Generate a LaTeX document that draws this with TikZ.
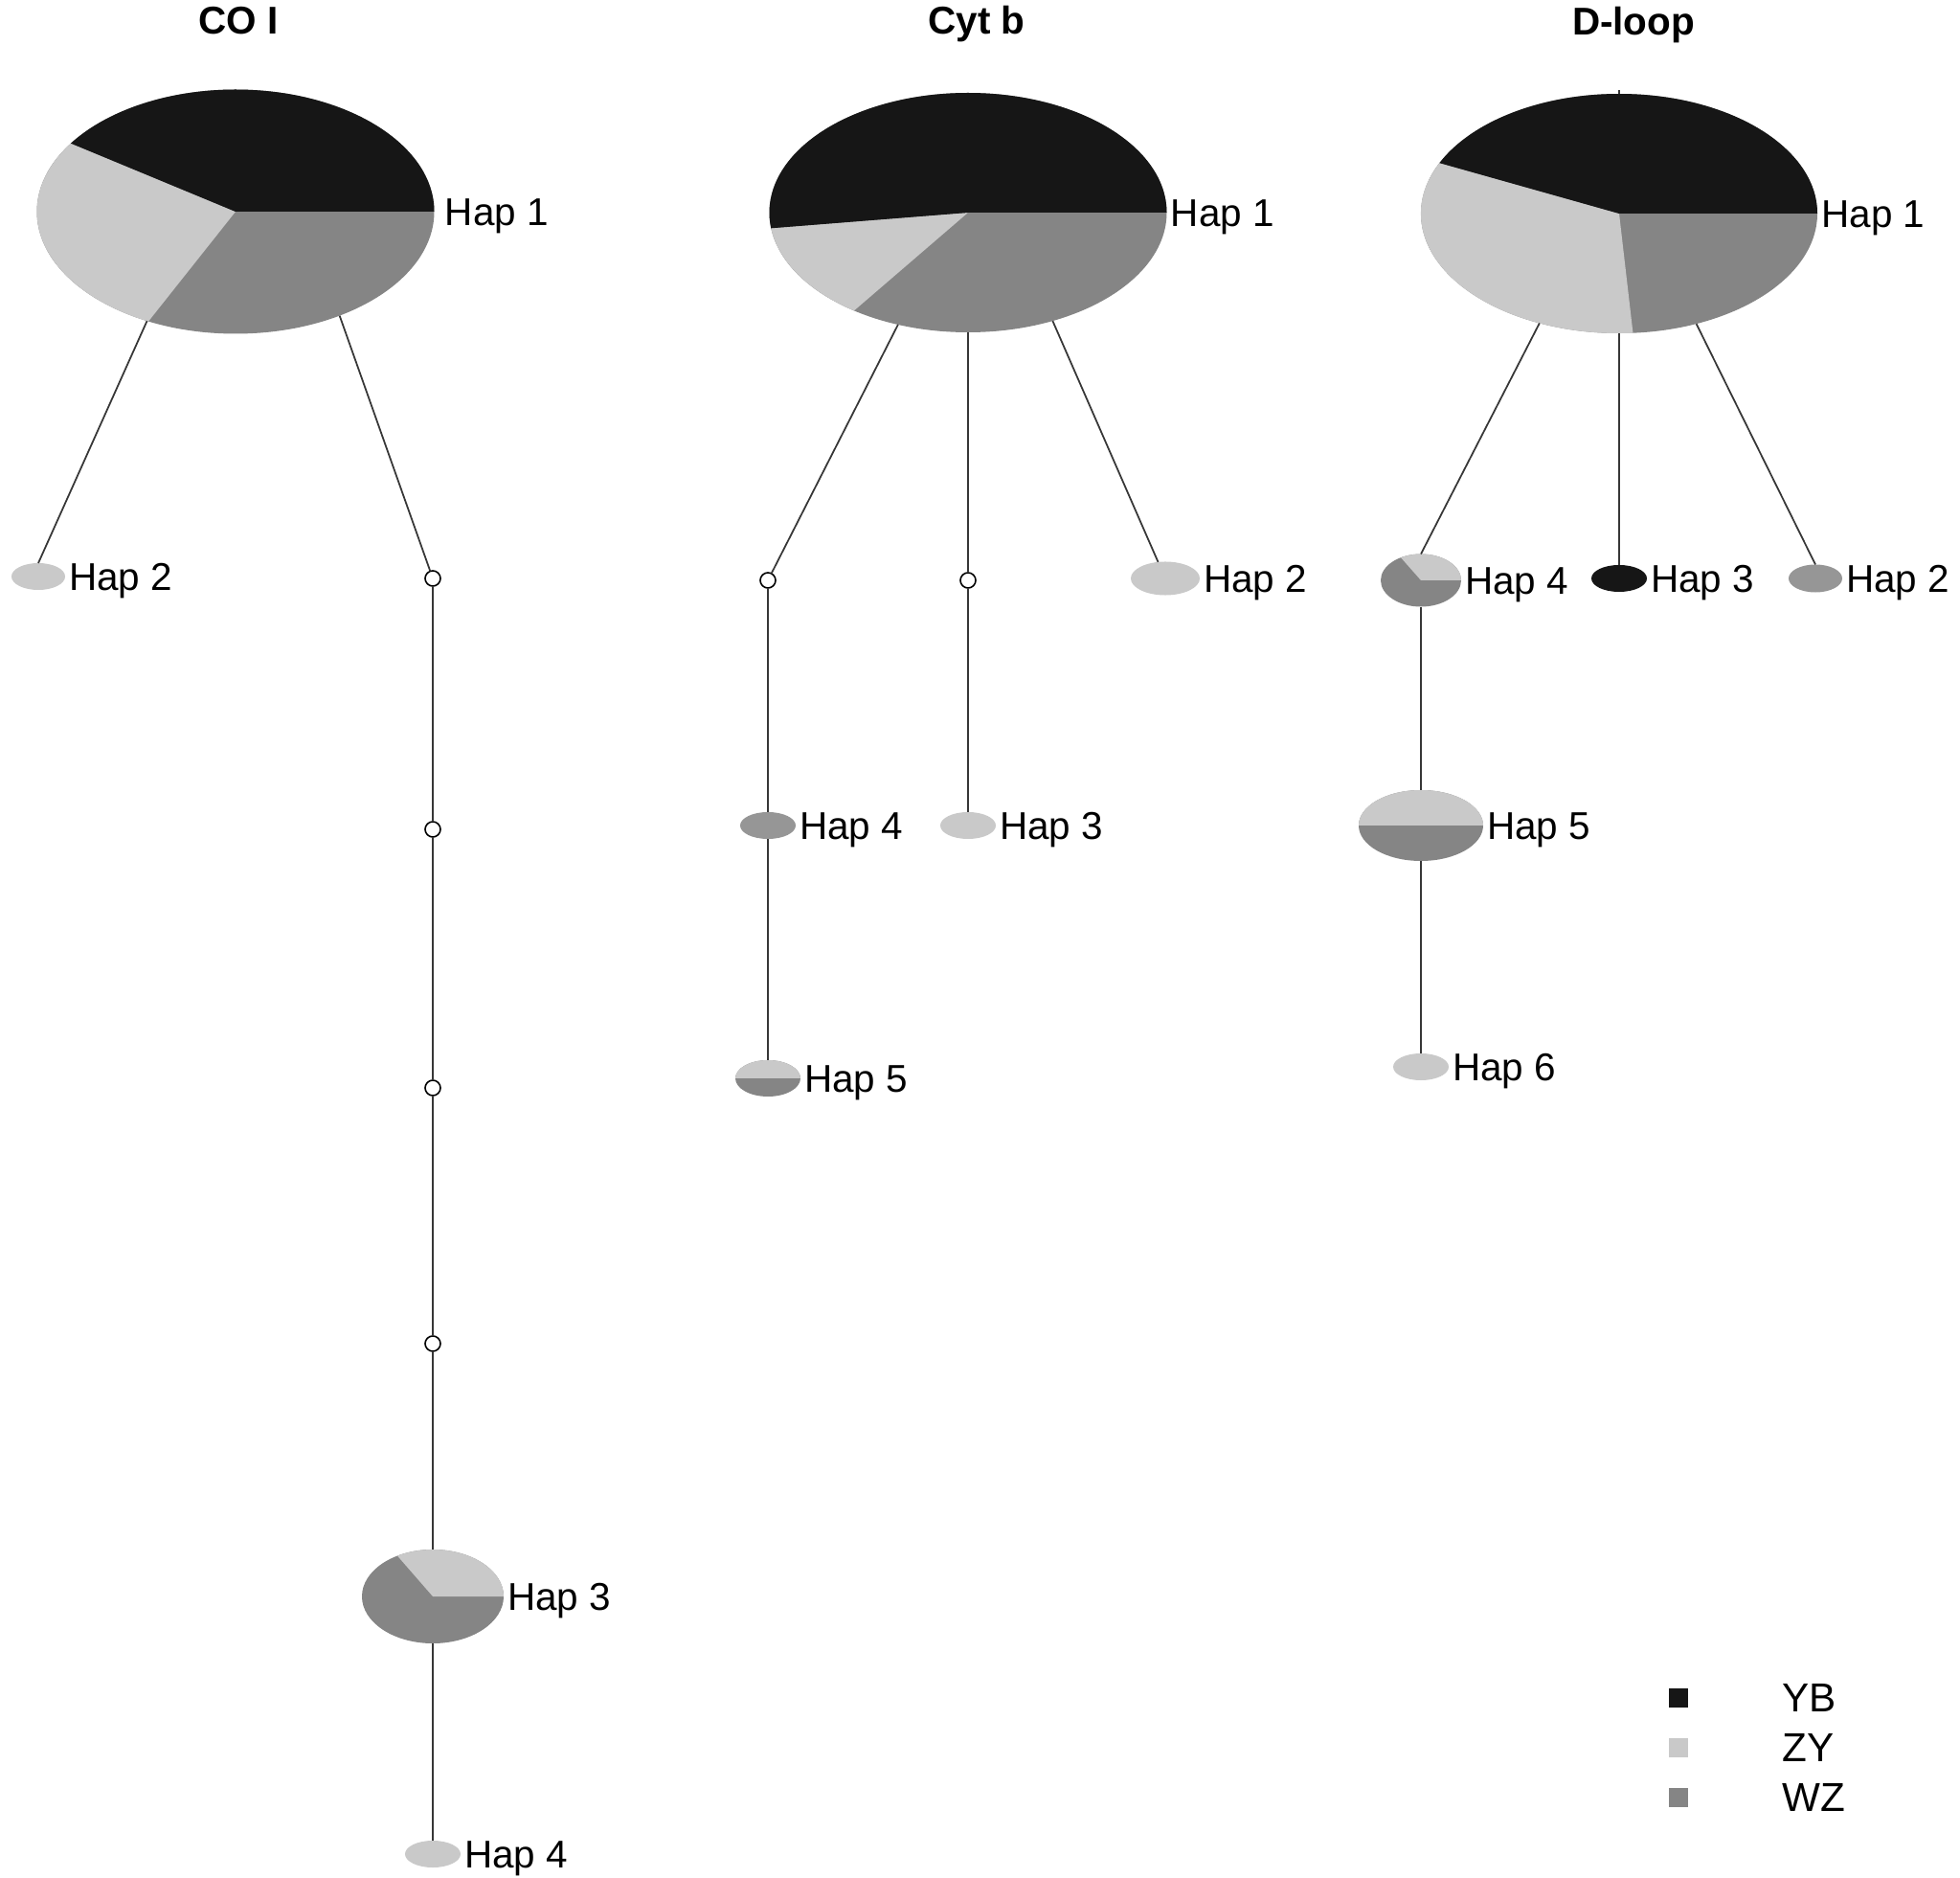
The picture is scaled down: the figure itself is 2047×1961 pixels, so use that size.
\documentclass[tikz,border=0pt]{standalone}
\usepackage{fontspec}
\setmainfont{Liberation Sans}
\usetikzlibrary{shapes.geometric}
\definecolor{ybc}{RGB}{22,22,22}
\definecolor{zyc}{RGB}{201,201,201}
\definecolor{wzc}{RGB}{133,133,133}
\definecolor{wzs}{RGB}{150,150,150}
\definecolor{edgec}{RGB}{55,55,55}
\newcommand{\hsector}[6]{\fill[#1, shift={(#2.center)}, xscale=#3, yscale=#4] (0,0) -- (#5:1) arc[start angle=#5, end angle=#6, radius=1] -- cycle;}
\newcommand{\hbase}[4]{\fill[#1] (#2.center) ellipse[x radius=#3, y radius=#4];}
\begin{document}
\begin{tikzpicture}[x=0.01cm,y=0.01cm,
  hap/.style={ellipse, inner sep=0, outer sep=0, draw=none},
  mv/.style={circle, draw=black, fill=white, line width=0.45pt, inner sep=0, outer sep=0, minimum size=0.16cm},
  edge/.style={draw=edgec, line width=0.5pt},
  lab/.style={anchor=west, inner sep=0, text height=8.2pt, text depth=0pt, font=\fontsize{11.5}{13}\selectfont},
  ttl/.style={inner sep=0, text height=8.2pt, text depth=0pt, font=\fontsize{11.5}{13}\selectfont\bfseries},
  sq/.style={rectangle, inner sep=0, minimum size=0.2cm},
  leg/.style={anchor=west, inner sep=0, text height=8.5pt, text depth=0pt, font=\fontsize{12}{14}\selectfont}]
\useasboundingbox (0,0) rectangle (2047,-1961);

% titles
\node[ttl] (t1) at (249,-21) {CO I};
\node[ttl] (t2) at (1020,-21) {Cyt b};
\node[ttl] (t3) at (1706,-22) {D-loop};

% ---------- CO I ----------
\node[hap, minimum width=4.15cm, minimum height=2.55cm] (c1h1) at (246,-221) {};
\hbase{wzc}{c1h1}{207.5}{127.5}
\hsector{zyc}{c1h1}{207.5}{127.5}{146}{244}
\hsector{ybc}{c1h1}{207.5}{127.5}{0}{146}
\node[hap, fill=zyc, minimum width=0.56cm, minimum height=0.28cm] (c1h2) at (40,-602) {};
\node[mv] (c1m1) at (452,-604) {};
\node[mv] (c1m2) at (452,-866) {};
\node[mv] (c1m3) at (452,-1136) {};
\node[mv] (c1m4) at (452,-1403) {};
\node[hap, minimum width=1.48cm, minimum height=0.98cm] (c1h3) at (452,-1667) {};
\hbase{wzc}{c1h3}{74}{49}
\hsector{zyc}{c1h3}{74}{49}{0}{120}
\node[hap, fill=zyc, minimum width=0.58cm, minimum height=0.28cm] (c1h4) at (452,-1936) {};

\draw[edge] (c1h1.231.6) -- (c1h2.north);
\draw[edge] (c1h1.-45.3) -- (c1m1);
\draw[edge] (c1m1) -- (c1m2);
\draw[edge] (c1m2) -- (c1m3);
\draw[edge] (c1m3) -- (c1m4);
\draw[edge] (c1m4) -- (c1h3);
\draw[edge] (c1h3) -- (c1h4);

\node[lab] (c1l1) at ([xshift=3pt]c1h1.east) {Hap 1};
\node[lab] (c1l2) at ([xshift=1pt]c1h2.east) {Hap 2};
\node[lab] (c1l3) at ([xshift=1pt]c1h3.east) {Hap 3};
\node[lab] (c1l4) at ([xshift=1pt]c1h4.east) {Hap 4};

% ---------- Cyt b ----------
\node[hap, minimum width=4.15cm, minimum height=2.5cm] (cbh1) at (1011,-222) {};
\hbase{wzc}{cbh1}{207.5}{125}
\hsector{zyc}{cbh1}{207.5}{125}{187.5}{235}
\hsector{ybc}{cbh1}{207.5}{125}{0}{187.5}
\node[mv] (cbm1) at (802,-606) {};
\node[mv] (cbm2) at (1011,-606) {};
\node[hap, fill=zyc, minimum width=0.72cm, minimum height=0.35cm] (cbh2) at (1217,-604) {};
\node[hap, fill=wzs, minimum width=0.58cm, minimum height=0.28cm] (cbh4) at (802,-862) {};
\node[hap, fill=zyc, minimum width=0.58cm, minimum height=0.28cm] (cbh3) at (1011,-862) {};
\node[hap, minimum width=0.68cm, minimum height=0.38cm] (cbh5) at (802,-1126) {};
\hbase{wzc}{cbh5}{34}{19}
\hsector{zyc}{cbh5}{34}{19}{0}{180}

\draw[edge] (cbh1.238) -- (cbm1);
\draw[edge] (cbh1.south) -- (cbm2);
\draw[edge] (cbh1.-52.3) -- (cbh2);
\draw[edge] (cbm1) -- (cbh4);
\draw[edge] (cbh4) -- (cbh5);
\draw[edge] (cbm2) -- (cbh3);

\node[lab] (cbl1) at ([xshift=1pt]cbh1.east) {Hap 1};
\node[lab] (cbl2) at ([xshift=1pt]cbh2.east) {Hap 2};
\node[lab] (cbl3) at ([xshift=1pt]cbh3.east) {Hap 3};
\node[lab] (cbl4) at ([xshift=1pt]cbh4.east) {Hap 4};
\node[lab] (cbl5) at ([xshift=1pt]cbh5.east) {Hap 5};

% ---------- D-loop ----------
\node[hap, minimum width=4.14cm, minimum height=2.5cm] (dlh1) at (1691,-223) {};
\hbase{wzc}{dlh1}{207}{125}
\hsector{zyc}{dlh1}{207}{125}{155}{274}
\hsector{ybc}{dlh1}{207}{125}{0}{155}
\coordinate (dltick) at (1691,-94);
\node[hap, minimum width=0.84cm, minimum height=0.55cm] (dlh4) at (1484,-606) {};
\hbase{wzc}{dlh4}{42}{27.5}
\hsector{zyc}{dlh4}{42}{27.5}{0}{120}
\node[hap, fill=ybc, minimum width=0.58cm, minimum height=0.28cm] (dlh3) at (1691,-604) {};
\node[hap, fill=wzs, minimum width=0.56cm, minimum height=0.29cm] (dlh2) at (1896,-604) {};
\node[hap, minimum width=1.30cm, minimum height=0.74cm] (dlh5) at (1484,-862) {};
\hbase{wzc}{dlh5}{65}{37}
\hsector{zyc}{dlh5}{65}{37}{0}{180}
\node[hap, fill=zyc, minimum width=0.58cm, minimum height=0.28cm] (dlh6) at (1484,-1114) {};

\draw[edge] (dlh1.north) -- (dltick);
\draw[edge] (dlh1.-126.5) -- (dlh4.north);
\draw[edge] (dlh1.south) -- (dlh3);
\draw[edge] (dlh1.-55.4) -- (dlh2.north);
\draw[edge] (dlh4) -- (dlh5);
\draw[edge] (dlh5) -- (dlh6);

\node[lab] (dll1) at ([xshift=1pt]dlh1.east) {Hap 1};
\node[lab] (dll2) at ([xshift=1pt]dlh2.east) {Hap 2};
\node[lab] (dll3) at ([xshift=1pt]dlh3.east) {Hap 3};
\node[lab] (dll4) at ([xshift=1pt]dlh4.east) {Hap 4};
\node[lab] (dll5) at ([xshift=1pt]dlh5.east) {Hap 5};
\node[lab] (dll6) at ([xshift=1pt]dlh6.east) {Hap 6};

% ---------- legend ----------
\node[sq, fill=ybc] (lg1) at (1753,-1773) {};
\node[sq, fill=zyc] (lg2) at (1753,-1825) {};
\node[sq, fill=wzc] (lg3) at (1753,-1877) {};
\node[leg] (lt1) at (1861,-1773) {YB};
\node[leg] (lt2) at (1861,-1825) {ZY};
\node[leg] (lt3) at (1861,-1877) {WZ};
\end{tikzpicture}
\end{document}
